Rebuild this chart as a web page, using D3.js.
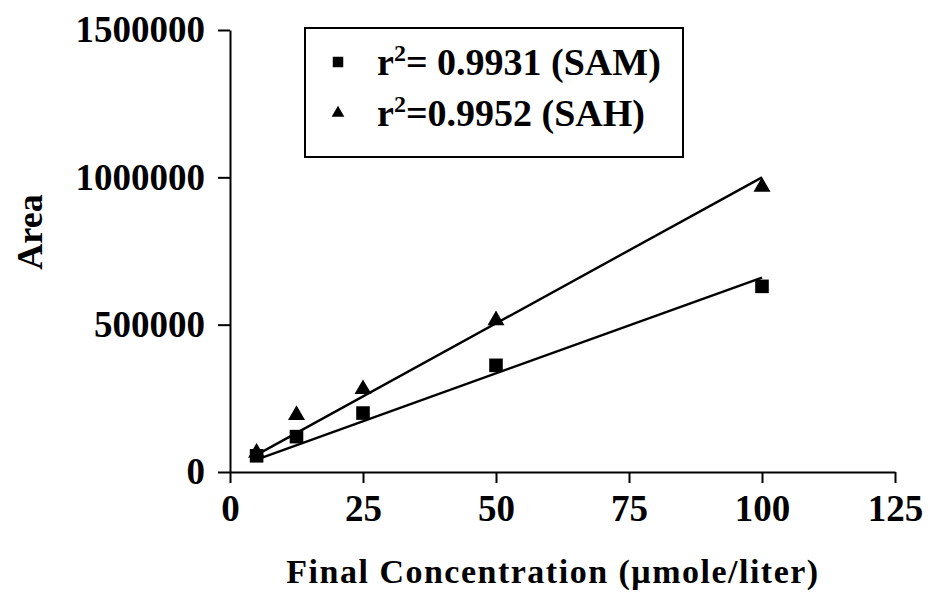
<!DOCTYPE html>
<html>
<head>
<meta charset="utf-8">
<script src="https://cdn.jsdelivr.net/npm/d3@7"></script>
<style>
  html, body { margin: 0; padding: 0; background: #fff; }
  svg { display: block; }
  text { font-family: "Liberation Serif", "Times New Roman", serif; font-weight: bold; fill: #000; }
</style>
</head>
<body>
<svg id="chart" width="930" height="598"></svg>
<script>
// Concentrations (µmol/L) measured
const concentrations = [5, 12.5, 25, 50, 100];
// Peak area for each standard
const samArea = [55000, 120000, 200000, 362000, 630000];
const sahArea = [65000, 193000, 281000, 515000, 968000];
// Regression line end points [concentration, area]
const samFit = [[5, 42000], [100, 660000]];
const sahFit = [[5, 58000], [100, 1000000]];
// Axis ticks
const xTicks = [0, 25, 50, 75, 100, 125];
const yTicks = [0, 500000, 1000000, 1500000];
// Legend entries
const legendLabels = [
  { base: "r", sup: "2", rest: "= 0.9931 (SAM)" },
  { base: "r", sup: "2", rest: "=0.9952 (SAH)" }
];

const svg = d3.select("#chart");

const x = d3.scaleLinear().domain([0, 125]).range([230, 895]);
const y = d3.scaleLinear().domain([0, 1500000]).range([472, 30]);

// X axis
const xAxis = svg.append("g")
  .attr("transform", `translate(0,${y(0)})`)
  .call(d3.axisBottom(x).tickValues(xTicks).tickSize(11).tickSizeOuter(0).tickPadding(12).tickFormat(d3.format("d")));
// Y axis
const yAxis = svg.append("g")
  .attr("transform", `translate(${x(0)},0)`)
  .call(d3.axisLeft(y).tickValues(yTicks).tickSize(12).tickSizeOuter(0).tickPadding(13).tickFormat(d3.format("d")));

[xAxis, yAxis].forEach(g => {
  g.select(".domain").attr("stroke", "#000").attr("stroke-width", 2);
  g.selectAll(".tick line").attr("stroke", "#000").attr("stroke-width", 2);
  g.selectAll(".tick text")
    .attr("font-family", "'Liberation Serif', 'Times New Roman', serif")
    .attr("font-weight", "bold")
    .attr("font-size", 37)
    .attr("fill", "#000");
});

// Axis titles
svg.append("text")
  .attr("x", 553).attr("y", 583)
  .attr("text-anchor", "middle")
  .attr("font-size", 34)
  .attr("letter-spacing", 1.5)
  .text("Final Concentration (\u03BCmole/liter)");

svg.append("text")
  .attr("transform", "translate(42,232) rotate(-90)")
  .attr("text-anchor", "middle")
  .attr("font-size", 36)
  .text("Area");

// Fitted lines
const line = d3.line().x(d => x(d[0])).y(d => y(d[1]));
[samFit, sahFit].forEach(fit => {
  svg.append("path")
    .attr("d", line(fit))
    .attr("fill", "none")
    .attr("stroke", "#000")
    .attr("stroke-width", 2.4);
});

// Markers
const square = d3.symbol().type(d3.symbolSquare).size(185);
const triangle = d3.symbol().type(d3.symbolTriangle).size(125);

svg.append("g").selectAll("path")
  .data(concentrations.map((c, i) => [c, sahArea[i]]))
  .join("path")
  .attr("d", triangle)
  .attr("transform", d => `translate(${x(d[0])},${y(d[1])})`)
  .attr("fill", "#000");

svg.append("g").selectAll("path")
  .data(concentrations.map((c, i) => [c, samArea[i]]))
  .join("path")
  .attr("d", square)
  .attr("transform", d => `translate(${x(d[0])},${y(d[1])})`)
  .attr("fill", "#000");

// Legend
const legend = svg.append("g");
legend.append("rect")
  .attr("x", 305).attr("y", 28)
  .attr("width", 378).attr("height", 129)
  .attr("fill", "#fff")
  .attr("stroke", "#000")
  .attr("stroke-width", 2);

const legendSymbols = [
  d3.symbol().type(d3.symbolSquare).size(110),
  d3.symbol().type(d3.symbolTriangle).size(70)
];
const rowY = [62, 113];

legendLabels.forEach((lab, i) => {
  legend.append("path")
    .attr("d", legendSymbols[i])
    .attr("transform", `translate(338,${rowY[i]})`)
    .attr("fill", "#000");
  const t = legend.append("text")
    .attr("x", 377).attr("y", rowY[i] + 13)
    .attr("font-size", 38);
  t.append("tspan").text(lab.base);
  t.append("tspan").attr("font-size", 24).attr("dy", -14).text(lab.sup);
  t.append("tspan").attr("dy", 14).text(lab.rest);
});
</script>
</body>
</html>
